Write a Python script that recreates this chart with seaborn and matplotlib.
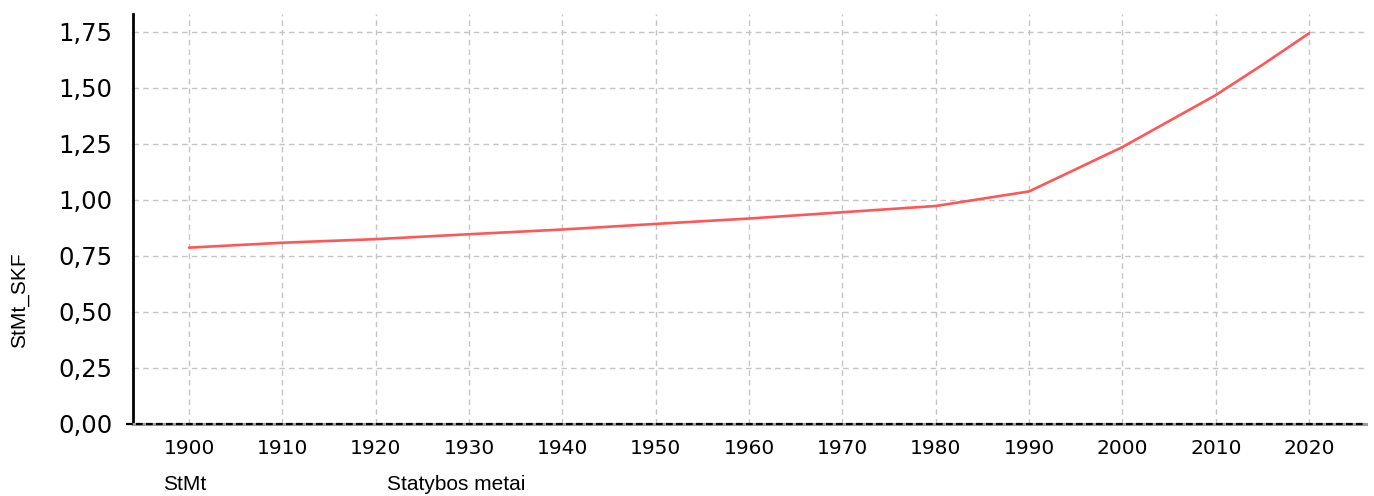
import seaborn as sns
import matplotlib.pyplot as plt
import pandas as pd
from matplotlib.ticker import FuncFormatter

# values
years = [1900, 1910, 1920, 1930, 1940, 1950, 1960, 1970, 1980,
         1990, 1995, 2000, 2005, 2010, 2015, 2020]
skf = [0.787, 0.809, 0.825, 0.847, 0.868, 0.893, 0.917, 0.945, 0.973,
       1.038, 1.137, 1.236, 1.352, 1.468, 1.603, 1.744]
y_ticks = [0.0, 0.25, 0.5, 0.75, 1.0, 1.25, 1.5, 1.75]
x_ticks = list(range(1900, 2021, 10))

df = pd.DataFrame({"StMt": years, "StMt_SKF": skf})

sns.set_style("white")
plt.rcParams["font.family"] = ["DejaVu Sans"]
fig = plt.figure(figsize=(13.74, 4.96), dpi=100)
ax = fig.add_axes([0.0968, 0.1452, 0.8974, 0.8266])

sns.lineplot(data=df, x="StMt", y="StMt_SKF", color="#ff5757", linewidth=1.9, ax=ax)

ax.set_xlim(1894, 2026.1)
ax.set_ylim(0, 1.83)
ax.set_xticks(x_ticks)
ax.set_yticks(y_ticks)
ax.yaxis.set_major_formatter(FuncFormatter(lambda v, p: f"{v:.2f}".replace(".", ",")))

ax.grid(True, color="#c4c4c4", linestyle=(0, (4, 3)), linewidth=1.0)
ax.set_axisbelow(True)
for s in ["top", "right"]:
    ax.spines[s].set_visible(False)
ax.spines["left"].set_color("black")
ax.spines["left"].set_linewidth(2.0)
ax.spines["bottom"].set_color("#9a9a9a")
ax.spines["bottom"].set_linewidth(2.2)
# dashed zero line, reaching a little left of the y axis
ax.plot([1893.2, 2026.1], [0, 0], color="black", linestyle=(0, (3, 1.5)),
        linewidth=1.6, zorder=3, clip_on=False)

ax.tick_params(axis="y", labelsize=17.5, length=6, width=1.5, color="black",
               labelcolor="black", pad=9)
ax.tick_params(axis="x", labelsize=14.5, length=5, width=1.5, color="black",
               labelcolor="black", pad=6)

ax.set_xlabel("")
ax.set_ylabel("")
fig.text(0.0145, 0.395, "StMt_SKF", rotation=90, ha="center", va="center",
         fontsize=15, family="Liberation Sans", color="black")
fig.text(0.1346, 0.024, "StMt", ha="center", va="center",
         fontsize=15, family="Liberation Sans", color="black")
fig.text(0.332, 0.024, "Statybos metai", ha="center", va="center",
         fontsize=15, family="Liberation Sans", color="black")

fig.savefig("out.png", dpi=100)
